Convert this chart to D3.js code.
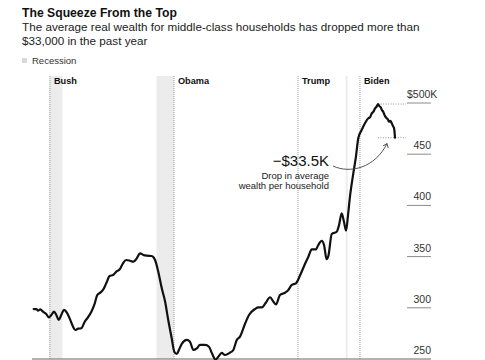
<!DOCTYPE html>
<html>
<head>
<meta charset="utf-8">
<script src="https://cdn.jsdelivr.net/npm/d3@7"></script>
<style>
  html, body { margin: 0; padding: 0; background: #fff; }
  svg { display: block; font-family: "Liberation Sans", Arial, Helvetica, sans-serif; }
</style>
</head>
<body>
<svg id="chart" width="485" height="360"></svg>
<script>
// ---- data ----
const dates = [2000.0, 2000.17, 2000.28, 2000.43, 2000.6, 2000.81, 2000.97, 2001.14, 2001.31, 2001.46,
  2001.61, 2001.78, 2001.95, 2002.1, 2002.32, 2002.54, 2002.68, 2002.86, 2003.07, 2003.29,
  2003.5, 2003.72, 2003.94, 2004.1, 2004.32, 2004.47, 2004.68, 2004.9, 2005.12, 2005.33,
  2005.55, 2005.76, 2005.97, 2006.21, 2006.43, 2006.65, 2006.86, 2007.07, 2007.29, 2007.61,
  2007.83, 2008.04, 2008.26, 2008.47, 2008.68, 2008.9, 2009.07, 2009.23, 2009.37, 2009.55,
  2009.87, 2010.08, 2010.3, 2010.52, 2010.73, 2011.05, 2011.31, 2011.5, 2011.73, 2011.91,
  2012.13, 2012.34, 2012.66, 2012.88, 2013.1, 2013.31, 2013.63, 2013.89, 2014.28, 2014.49,
  2014.73, 2014.95, 2015.25, 2015.46, 2015.63, 2015.89, 2016.21, 2016.43, 2016.65, 2016.92,
  2017.18, 2017.5, 2017.72, 2017.94, 2018.21, 2018.36, 2018.58, 2018.73, 2018.9, 2019.01,
  2019.23, 2019.55, 2019.7, 2019.87, 2020.02, 2020.15, 2020.28, 2020.41, 2020.62, 2020.79,
  2020.94, 2021.16, 2021.37, 2021.59, 2021.7, 2021.81, 2021.92, 2022.02, 2022.12, 2022.22,
  2022.3, 2022.39, 2022.47, 2022.55, 2022.64, 2022.77, 2022.85, 2022.92, 2023.01, 2023.1,
  2023.18, 2023.25, 2023.31];
const wealth = [298.8, 298.8, 297.2, 298.5, 296.2, 293.9, 290.7, 293.0, 296.2, 293.0,
  288.1, 293.0, 297.9, 296.2, 289.7, 281.5, 278.3, 279.6, 280.0, 286.4,
  290.7, 296.2, 304.4, 312.5, 315.1, 317.4, 323.9, 331.1, 332.0, 335.3,
  337.6, 343.5, 346.7, 346.0, 345.0, 348.3, 353.2, 351.6, 350.9, 350.6,
  346.7, 335.0, 319.3, 306.6, 288.1, 270.5, 257.1, 254.9, 258.8, 264.6,
  268.6, 266.9, 258.8, 260.4, 263.7, 263.7, 262.0, 255.6, 249.5, 252.2,
  255.9, 253.9, 256.2, 258.8, 268.6, 271.8, 284.2, 293.0, 298.8, 300.5,
  300.5, 304.4, 310.3, 306.0, 303.2, 312.5, 314.7, 317.4, 322.3, 323.9,
  331.5, 342.8, 349.9, 357.1, 357.1, 361.3, 365.5, 361.3, 347.4, 350.6,
  372.1, 374.3, 380.9, 392.3, 383.8, 375.3, 390.6, 409.2, 431.3, 447.6,
  465.5, 473.6, 480.2, 485.1, 486.0, 489.9, 491.5, 494.8, 496.5, 499.0,
  497.0, 495.8, 493.0, 491.5, 488.0, 485.1, 484.0, 481.7, 482.5, 480.2,
  477.5, 475.3, 466.1];

const presidents = ["Bush", "Obama", "Trump", "Biden"];
const inaugurations = [2001.05, 2009.05, 2017.05, 2021.05];
const recessionStarts = [2001.0, 2007.92, 2020.13];
const recessionEnds = [2001.85, 2009.05, 2020.25];
const yTicks = [250, 300, 350, 400, 450, 500];
const yTickLabels = ["250", "300", "350", "400", "450", "$500K"];
const peakValue = 499.0, lastValue = 466.1, peakDate = 2022.22, lastDate = 2023.31;

// ---- layout ----
const svg = d3.select("#chart");
const x = d3.scaleLinear().domain([2000, 2023.5]).range([33.7, 33.7 + 23.5 * 15.5]);
const y = d3.scaleLinear().domain([250, 500]).range([359, 103]);
const plotTop = 76, plotBottom = y(250);

// title / subtitle
svg.append("text").attr("x", 22).attr("y", 17)
  .attr("font-size", 12.2).attr("font-weight", "bold").attr("fill", "#111")
  .text("The Squeeze From the Top");
svg.append("text").attr("x", 22).attr("y", 30.5)
  .attr("font-size", 11.7).attr("fill", "#222")
  .text("The average real wealth for middle-class households has dropped more than");
svg.append("text").attr("x", 22).attr("y", 44.5)
  .attr("font-size", 11.7).attr("fill", "#222")
  .text("$33,000 in the past year");

// legend
svg.append("rect").attr("x", 22).attr("y", 58).attr("width", 5).attr("height", 5).attr("fill", "#d8d8d8");
svg.append("text").attr("x", 32).attr("y", 64).attr("font-size", 9.5).attr("fill", "#333").text("Recession");

// recession bands
svg.append("g").selectAll("rect").data(recessionStarts).join("rect")
  .attr("x", (d) => x(d))
  .attr("width", (d, i) => Math.max(1.5, x(recessionEnds[i]) - x(d)))
  .attr("y", plotTop).attr("height", plotBottom - plotTop)
  .attr("fill", "#ececec");

// president lines + labels
const pg = svg.append("g");
pg.selectAll("line").data(inaugurations).join("line")
  .attr("x1", (d) => x(d)).attr("x2", (d) => x(d))
  .attr("y1", plotTop).attr("y2", plotBottom)
  .attr("stroke", "#a0a0a0").attr("stroke-width", 1).attr("stroke-dasharray", "1,1");
pg.selectAll("text").data(presidents).join("text")
  .attr("x", (d, i) => x(inaugurations[i]) + 4).attr("y", 84)
  .attr("font-size", 9.2).attr("font-weight", "bold").attr("fill", "#111")
  .text((d) => d);

// y axis (right side ticks)
const ag = svg.append("g");
ag.selectAll("line").data(yTicks.filter(d => d > 250)).join("line")
  .attr("x1", 407).attr("x2", 431)
  .attr("y1", (d) => y(d)).attr("y2", (d) => y(d))
  .attr("stroke", "#8a8a8a").attr("stroke-width", 1);
ag.selectAll("text").data(yTicks).join("text")
  .attr("x", (d, i) => yTickLabels[i].startsWith("$") ? 407 : 431)
  .attr("text-anchor", (d, i) => yTickLabels[i].startsWith("$") ? "start" : "end")
  .attr("y", (d) => y(d) - 5)
  .attr("font-size", 10.5).attr("fill", "#333")
  .text((d, i) => yTickLabels[i]);

// baseline
svg.append("line").attr("x1", 32).attr("x2", 431)
  .attr("y1", plotBottom).attr("y2", plotBottom)
  .attr("stroke", "#666").attr("stroke-width", 1.2);

// dotted reference lines for the drop
svg.append("g").selectAll("line").data([[peakDate, peakValue], [lastDate - 1.1, lastValue]]).join("line")
  .attr("x1", (d) => x(d[0])).attr("x2", 406)
  .attr("y1", (d) => y(d[1])).attr("y2", (d) => y(d[1]))
  .attr("stroke", "#999").attr("stroke-width", 1).attr("stroke-dasharray", "1,1.5");

// wealth line
const pts = dates.map((d, i) => [d, wealth[i]]);
svg.append("path").datum(pts)
  .attr("fill", "none").attr("stroke", "#111").attr("stroke-width", 2.2)
  .attr("stroke-linejoin", "round").attr("stroke-linecap", "round")
  .attr("d", d3.line().x(d => x(d[0])).y(d => y(d[1])).curve(d3.curveMonotoneX));

// annotation
svg.append("text").attr("x", 329).attr("y", 166).attr("text-anchor", "end")
  .attr("font-size", 15).attr("fill", "#111").text("\u2212$33.5K");
svg.append("text").attr("x", 329).attr("y", 178.5).attr("text-anchor", "end")
  .attr("font-size", 9.5).attr("fill", "#222").text("Drop in average");
svg.append("text").attr("x", 329).attr("y", 189).attr("text-anchor", "end")
  .attr("font-size", 9.5).attr("fill", "#222").text("wealth per household");

const ax0 = 333, ay0 = 166, ax1 = 387, ay1 = 143.5;
svg.append("path")
  .attr("d", `M${ax0},${ay0} C${350},${174} ${375},${168} ${ax1},${ay1}`)
  .attr("fill", "none").attr("stroke", "#555").attr("stroke-width", 1);
svg.append("path")
  .attr("d", `M${ax1 - 4},${ay1 + 2.5} L${ax1},${ay1} L${ax1 + 1.2},${ay1 + 4.5}`)
  .attr("fill", "none").attr("stroke", "#555").attr("stroke-width", 1);
</script>
</body>
</html>
